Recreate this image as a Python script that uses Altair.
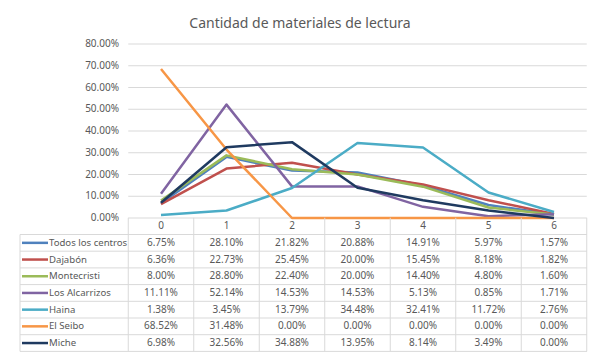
import altair as alt
import pandas as pd

# ---------------- data ----------------
categories = [0, 1, 2, 3, 4, 5, 6]
series = ["Todos los centros", "Dajabón", "Montecristi", "Los Alcarrizos",
          "Haina", "El Seibo", "Miche"]
todos = [6.75, 28.10, 21.82, 20.88, 14.91, 5.97, 1.57]
dajabon = [6.36, 22.73, 25.45, 20.00, 15.45, 8.18, 1.82]
montecristi = [8.00, 28.80, 22.40, 20.00, 14.40, 4.80, 1.60]
alcarrizos = [11.11, 52.14, 14.53, 14.53, 5.13, 0.85, 1.71]
haina = [1.38, 3.45, 13.79, 34.48, 32.41, 11.72, 2.76]
seibo = [68.52, 31.48, 0.00, 0.00, 0.00, 0.00, 0.00]
miche = [6.98, 32.56, 34.88, 13.95, 8.14, 3.49, 0.00]
y_ticks = [0, 10, 20, 30, 40, 50, 60, 70, 80]
colors = ["#4F81BD", "#C0504D", "#9BBB59", "#8064A2", "#4BACC6", "#F79646", "#1F3A60"]
title_text = "Cantidad de materiales de lectura"

all_values = [todos, dajabon, montecristi, alcarrizos, haina, seibo, miche]

rows = []
for i, (name, vals) in enumerate(zip(series, all_values)):
    for c, v in zip(categories, vals):
        rows.append({"series": name, "row": i, "cat": c, "value": v,
                     "label": f"{v:.2f}%"})
df = pd.DataFrame(rows)
df_series = pd.DataFrame({"series": series, "row": list(range(len(series)))})
df_ticks = pd.DataFrame({"tick": y_ticks, "label": [f"{t:.2f}%" for t in y_ticks],
                         "x0": -0.5, "x1": 6.5})
df_cats = pd.DataFrame({"cat": categories, "row": -1, "label": [str(c) for c in categories]})
df_hlines = pd.DataFrame({"row": [r - 0.5 for r in range(len(series) + 1)]})
df_vlines = pd.DataFrame({"cat": [c - 0.5 for c in categories + [7]], "r0": -1.5, "r1": 6.5})
df_left = pd.DataFrame({"r0": [-0.5], "r1": [6.5]})
df_title = pd.DataFrame({"t": [title_text]})

FONT = "Noto Sans"
TXT = "#595959"
GRID = "#d9d9d9"

xs = alt.Scale(domain=[0, 6], range=[153, 546])
ys_val = alt.Scale(domain=[0, 80], range=[210, 36])
ys_row = alt.Scale(domain=[0, 6], range=[234.85, 335.05])
cs = alt.Scale(domain=series, range=colors)

grid = alt.Chart(df_ticks).mark_rule(strokeWidth=1, color=GRID).encode(
    x=alt.X("x0:Q", scale=xs, axis=None), x2="x1:Q",
    y=alt.Y("tick:Q", scale=ys_val, axis=None))

ylabels = alt.Chart(df_ticks).mark_text(align="right", baseline="middle", font=FONT,
                                        fontSize=10, color=TXT).encode(
    x=alt.value(111), y=alt.Y("tick:Q", scale=ys_val, axis=None), text="label:N")

lines = alt.Chart(df).mark_line(strokeWidth=2.5, strokeJoin="round").encode(
    x=alt.X("cat:Q", scale=xs, axis=None),
    y=alt.Y("value:Q", scale=ys_val, axis=None),
    color=alt.Color("series:N", scale=cs, legend=None),
    order="cat:Q")

hlines = alt.Chart(df_hlines).mark_rule(strokeWidth=1, color=GRID).encode(
    x=alt.value(12), x2=alt.value(579),
    y=alt.Y("row:Q", scale=ys_row, axis=None))

vlines = alt.Chart(df_vlines).mark_rule(strokeWidth=1, color=GRID).encode(
    x=alt.X("cat:Q", scale=xs, axis=None),
    y=alt.Y("r0:Q", scale=ys_row, axis=None), y2="r1:Q")

left = alt.Chart(df_left).mark_rule(strokeWidth=1, color=GRID).encode(
    x=alt.value(12), y=alt.Y("r0:Q", scale=ys_row, axis=None), y2="r1:Q")

header = alt.Chart(df_cats).mark_text(baseline="middle", font=FONT, fontSize=10,
                                      color=TXT).encode(
    x=alt.X("cat:Q", scale=xs, axis=None),
    y=alt.Y("row:Q", scale=ys_row, axis=None), text="label:N")

cells = alt.Chart(df).mark_text(baseline="middle", font=FONT, fontSize=10,
                                color=TXT).encode(
    x=alt.X("cat:Q", scale=xs, axis=None),
    y=alt.Y("row:Q", scale=ys_row, axis=None), text="label:N")

keys = alt.Chart(df_series).mark_rule(strokeWidth=2.5).encode(
    x=alt.value(14), x2=alt.value(40),
    y=alt.Y("row:Q", scale=ys_row, axis=None),
    color=alt.Color("series:N", scale=cs, legend=None))

names = alt.Chart(df_series).mark_text(align="left", baseline="middle", font=FONT,
                                       fontSize=9.6, color=TXT).encode(
    x=alt.value(41), y=alt.Y("row:Q", scale=ys_row, axis=None), text="series:N")

title = alt.Chart(df_title).mark_text(align="center", baseline="middle", font=FONT,
                                      fontSize=14, color=TXT).encode(
    x=alt.value(292), y=alt.value(16), text="t:N")

chart = alt.layer(grid, ylabels, lines, hlines, vlines, left, header, cells, keys,
                  names, title).resolve_scale(y="independent").properties(
    width=585, height=344, padding=0,
    autosize=alt.AutoSizeParams(type="none")
).configure_view(stroke=None)

chart.save("out.html", embed_options={"renderer": "svg", "actions": False})
